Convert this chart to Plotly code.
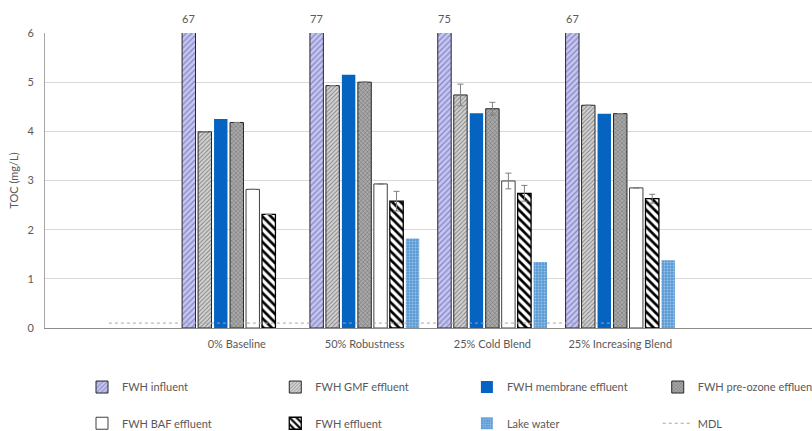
import plotly.graph_objects as go

# Category slots on the x axis (blank slots pad both ends)
categories = ["", "0% Baseline", "50% Robustness", "25% Cold Blend", "25% Increasing Blend", ""]
groups = ["0% Baseline", "50% Robustness", "25% Cold Blend", "25% Increasing Blend"]

# TOC (mg/L) per sampling location
influent = [67, 77, 75, 67]
gmf_effluent = [3.99, 4.93, 4.74, 4.53]
gmf_err = [None, None, 0.22, None]
membrane_effluent = [4.25, 5.15, 4.37, 4.36]
preozone_effluent = [4.18, 5.0, 4.46, 4.36]
preozone_err = [None, None, 0.13, None]
baf_effluent = [2.82, 2.93, 2.99, 2.85]
baf_err = [None, None, 0.16, None]
fwh_effluent = [2.31, 2.58, 2.74, 2.63]
fwh_err = [None, 0.2, 0.16, 0.09]
lake_water = [None, 1.82, 1.34, 1.38]
mdl = [0.1, 0.1, 0.1, 0.1, 0.1]

y_ticks = [0, 1, 2, 3, 4, 5, 6]
y_max = 6

FONT = "Lato"
TXT = "#595959"

xpos = [categories.index(g) for g in groups]
mdl_x = list(range(len(mdl)))

# Legend grid: 4 columns x 2 rows, placed in container coordinates
legend_cols = [0.101, 0.339, 0.575, 0.810]
legend_rows = [0.102, 0.018]
legend_slots = {}

fig = go.Figure()


def err(vals):
    if all(v is None for v in vals):
        return None
    return dict(type="data", array=[v if v is not None else 0 for v in vals],
                visible=True, color="#7f7f7f", thickness=1, width=3)


def legend_for(i):
    key = "legend" if i == 0 else f"legend{i + 1}"
    legend_slots[key] = (legend_cols[i % 4], legend_rows[i // 4])
    return key


def add_bar(i, name, vals, color, line_color=None, line_width=0, pattern=None, errors=None):
    marker = dict(color=color, line=dict(color=line_color or color, width=line_width))
    if pattern:
        marker["pattern"] = pattern
    fig.add_trace(go.Bar(
        name=name, x=xpos, y=vals, marker=marker,
        error_y=err(errors) if errors else None,
        legend=legend_for(i),
    ))


add_bar(0, "FWH influent", influent, "#c6c6f0", "#262626", 1,
        dict(shape="/", bgcolor="#c6c6f0", fgcolor="#8585c8", size=4, solidity=0.3, fillmode="replace"))
add_bar(1, "FWH GMF effluent", gmf_effluent, "#cfcfcf", "#262626", 1,
        dict(shape="/", bgcolor="#d2d2d2", fgcolor="#808080", size=3, solidity=0.3, fillmode="replace"),
        errors=gmf_err)
add_bar(2, "FWH membrane effluent", membrane_effluent, "#0563c1")
add_bar(3, "FWH pre-ozone effluent", preozone_effluent, "#a5a5a5", "#262626", 1,
        dict(shape="x", bgcolor="#a9a9a9", fgcolor="#5f5f5f", size=3, solidity=0.25, fillmode="replace"),
        errors=preozone_err)
add_bar(4, "FWH BAF effluent", baf_effluent, "#ffffff", "#404040", 1, errors=baf_err)
add_bar(5, "FWH effluent", fwh_effluent, "#ffffff", "#000000", 1.3,
        dict(shape="\\", bgcolor="#ffffff", fgcolor="#000000", size=6, solidity=0.45, fillmode="replace"),
        errors=fwh_err)
add_bar(6, "Lake water", lake_water, "#5b9bd5", None, 0,
        dict(shape=".", bgcolor="#5b9bd5", fgcolor="#9cc3e8", size=3, solidity=0.3, fillmode="replace"))

fig.add_trace(go.Scatter(
    name="MDL", x=mdl_x, y=mdl, mode="lines",
    line=dict(color="#a6a6a6", width=1, dash="dot"),
    legend=legend_for(7),
))

# Off-scale influent values labelled above the clipped bars
n_series = 7
bargap = 0.125
slot = (1 - bargap) / n_series
influent_offset = -(1 - bargap) / 2 + slot / 2
for x, v in zip(xpos, influent):
    fig.add_annotation(x=x + influent_offset, y=y_max, text=str(v), showarrow=False,
                       yanchor="bottom", yshift=6, font=dict(family=FONT, size=11, color=TXT))

legend_layout = {
    key: dict(x=lx, y=ly, xref="container", yref="container",
              xanchor="left", yanchor="middle", orientation="h",
              font=dict(family=FONT, size=11, color=TXT),
              bgcolor="rgba(0,0,0,0)")
    for key, (lx, ly) in legend_slots.items()
}

fig.update_layout(
    width=812, height=431,
    margin=dict(l=45, r=0, t=33, b=103, autoexpand=False),
    paper_bgcolor="white", plot_bgcolor="white",
    barmode="group", bargap=bargap, bargroupgap=0.16,
    font=dict(family=FONT, size=11, color=TXT),
    showlegend=True,
    xaxis=dict(
        range=[-0.5, len(categories) - 0.5],
        tickmode="array", tickvals=xpos, ticktext=groups,
        showgrid=False, zeroline=False,
        showline=True, linecolor="#8c8c8c", linewidth=1,
        ticks="outside", ticklen=6, tickcolor="rgba(0,0,0,0)",
        tickfont=dict(family=FONT, size=11, color=TXT),
    ),
    yaxis=dict(
        range=[0, y_max], tickvals=y_ticks,
        showgrid=True, gridcolor="#d9d9d9", gridwidth=1,
        zeroline=False,
        showline=True, linecolor="#a6a6a6", linewidth=1,
        ticks="outside", ticklen=8, tickcolor="rgba(0,0,0,0)",
        tickfont=dict(family=FONT, size=11, color=TXT),
        title=dict(text="TOC (mg/L)", standoff=6, font=dict(family=FONT, size=11, color=TXT)),
    ),
    **legend_layout,
)

fig.write_html("out.html")
